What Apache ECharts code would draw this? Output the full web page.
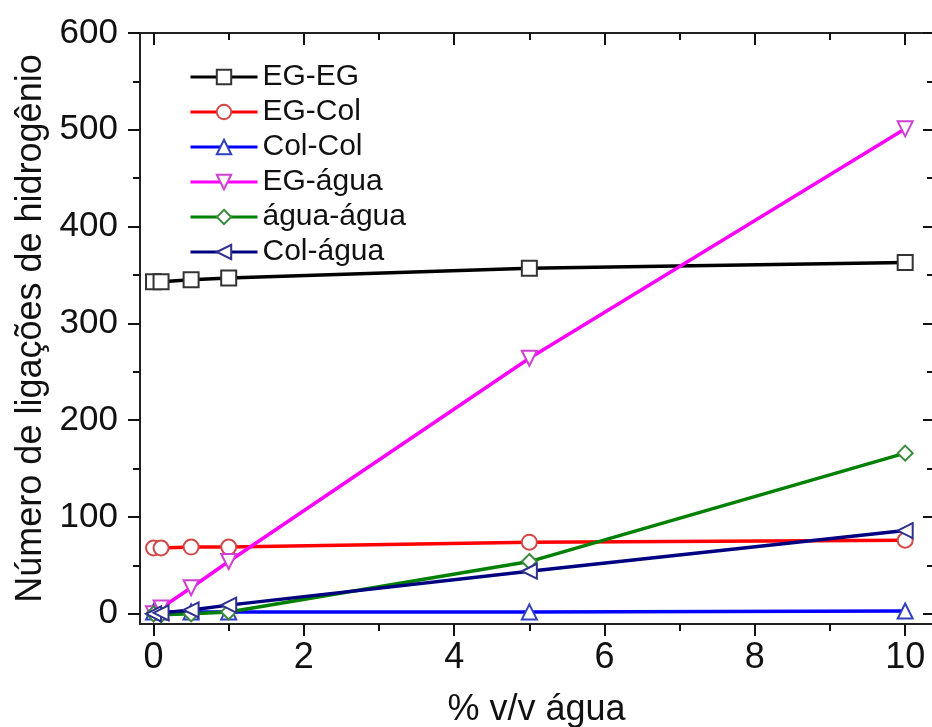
<!DOCTYPE html>
<html>
<head>
<meta charset="utf-8">
<script src="https://cdn.jsdelivr.net/npm/echarts@6/dist/echarts.min.js"></script>
<style>
html,body{margin:0;padding:0;background:#fff;}
#c{width:932px;height:727px;}
</style>
</head>
<body>
<div id="c"></div>
<script>
// ---- data ----
var xValues = [0, 0.1, 0.5, 1, 5, 10];
var egEg = [343, 343, 345, 347, 357, 363];
var egCol = [68, 68, 69, 69, 74, 76];
var colCol = [2, 2, 2, 2, 2, 3];
var egAgua = [0, 6, 27, 54, 264, 501];
var aguaAgua = [0, -1, 0, 2, 54, 166];
var colAgua = [0, 1, 4, 9, 44, 86];
var seriesNames = ['EG-EG', 'EG-Col', 'Col-Col', 'EG-água', 'água-água', 'Col-água'];
var xMajorTicks = [0, 2, 4, 6, 8, 10];
var xMinorTicks = [1, 3, 5, 7, 9];
var yMajorTicks = [0, 100, 200, 300, 400, 500, 600];
var yMinorTicks = [50, 150, 250, 350, 450, 550];

var allSeries = [egEg, egCol, colCol, egAgua, aguaAgua, colAgua];
var lineColors = ['#000000', '#ff0000', '#0000ff', '#ff00ff', '#008000', '#000080'];
var markerColors = ['#333333', '#d04848', '#3040c0', '#d040d0', '#3a8a3a', '#303090'];
var symbols = ['emptyRect', 'emptyCircle', 'emptyTriangle', 'emptyTriangle', 'emptyDiamond', 'emptyTriangle'];
var rotations = [0, 0, 0, 180, 0, 90];

var XMIN = -0.18, XMAX = 10.37, YMIN = -10.5, YMAX = 600;
var regular = '"Liberation Sans", Arial, sans-serif';

function pairs(ys) {
  return xValues.map(function (x, i) { return [x, ys[i]]; });
}

function mkX(pos, vals, len, inside, showLine, showLabel) {
  return {
    type: 'value', position: pos, min: XMIN, max: XMAX,
    axisLine: { show: showLine, onZero: false, lineStyle: { color: '#222', width: 2 } },
    axisTick: { show: true, inside: inside, length: len, customValues: vals, lineStyle: { color: '#111', width: 2 } },
    axisLabel: showLabel ? { show: true, customValues: vals, margin: 16, fontFamily: regular, fontSize: 36, color: '#111' } : { show: false },
    splitLine: { show: false },
    name: showLabel ? '% v/v água' : '',
    nameLocation: 'middle', nameGap: 68,
    nameTextStyle: { fontFamily: regular, fontSize: 36, color: '#111' }
  };
}
function mkY(pos, vals, len, inside, showLine, showLabel) {
  return {
    type: 'value', position: pos, min: YMIN, max: YMAX,
    axisLine: { show: showLine, onZero: false, lineStyle: { color: '#222', width: 2 } },
    axisTick: { show: true, inside: inside, length: len, customValues: vals, lineStyle: { color: '#111', width: 2 } },
    axisLabel: showLabel ? { show: true, customValues: vals, margin: 22, fontFamily: regular, fontSize: 35, color: '#111' } : { show: false },
    splitLine: { show: false },
    name: showLabel ? 'Número de ligações de hidrogênio' : '',
    nameLocation: 'middle', nameGap: 90,
    nameTextStyle: { fontFamily: regular, fontSize: 36, color: '#111' }
  };
}

var series = allSeries.map(function (ys, i) {
  return {
    name: seriesNames[i], type: 'line', data: pairs(ys),
    xAxisIndex: 0, yAxisIndex: 0,
    symbol: symbols[i], symbolRotate: rotations[i], symbolSize: 15,
    lineStyle: { color: lineColors[i], width: 3.5 },
    itemStyle: { color: markerColors[i], borderWidth: 1.2, borderColor: markerColors[i] },
    z: 2 + i, animation: false
  };
});

var chart = echarts.init(document.getElementById('c'), null, { renderer: 'canvas' });
chart.setOption({
  animation: false,
  backgroundColor: '#fff',
  grid: { left: 140, top: 33, width: 793, height: 591, containLabel: false, outerBoundsMode: 'none' },
  xAxis: [
    mkX('bottom', xMajorTicks, 12, false, true, true),
    mkX('bottom', xMinorTicks, 7, false, false, false),
    mkX('top', xMajorTicks, 12, true, true, false),
    mkX('top', xMinorTicks, 7, true, false, false)
  ],
  yAxis: [
    mkY('left', yMajorTicks, 12, false, true, true),
    mkY('left', yMinorTicks, 7, false, false, false),
    mkY('right', yMajorTicks, 10, true, true, false),
    mkY('right', yMinorTicks, 6, true, false, false)
  ],
  legend: {
    orient: 'vertical', left: 184, top: 57,
    itemWidth: 67, itemHeight: 18, itemGap: 5,
    data: seriesNames,
    lineStyle: { width: 3 },
    textStyle: { fontFamily: regular, fontSize: 30, lineHeight: 30, color: '#111' }
  },
  series: series
});
</script>
</body>
</html>
